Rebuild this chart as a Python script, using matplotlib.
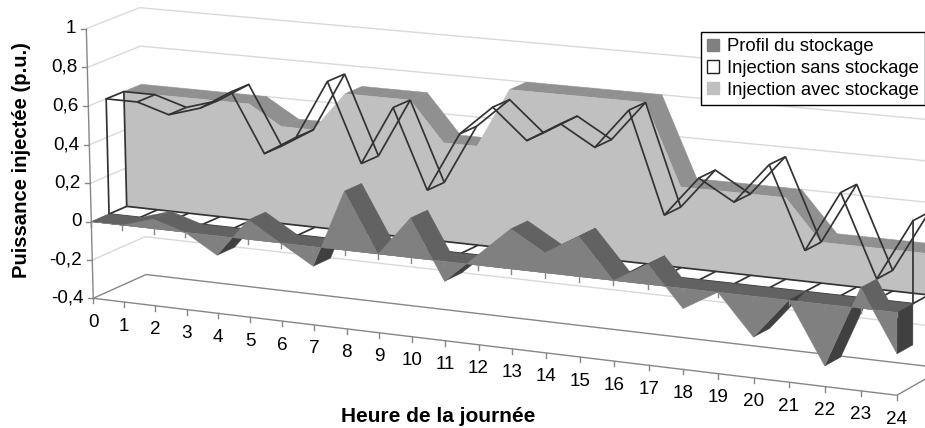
import numpy as np
import matplotlib
matplotlib.use('Agg')
import matplotlib.pyplot as plt
from matplotlib.patches import Patch

plt.rcParams['font.family'] = ['Liberation Sans', 'DejaVu Sans']

hours = list(range(25))
stockage = [0, 0, .05, 0, -.1, .1, 0, -.1, .3, 0, .2, -.1, .05, .2, .1, .2, 0, .1, -.1, 0, -.2, 0, -.3, .1, -.2]
sans_stockage = [.6, .6, .55, .6, .7, .4, .5, .8, .4, .7, .3, .6, .75, .6, .7, .6, .8, .3, .5, .4, .6, .2, .5, .1, .4]
avec_stockage = [.6, .6, .6, .6, .6, .5, .5, .7, .7, .7, .5, .5, .8, .8, .8, .8, .8, .4, .4, .4, .4, .2, .2, .2, .2]
y_ticks = [-.4, -.2, 0, .2, .4, .6, .8, 1]
y_labels = ['-0,4', '-0,2', '0', '0,2', '0,4', '0,6', '0,8', '1']

# box corners (hour, value, depth) and where they land in the image, for the 3d look
CAL_3D = [(0, -.4, 0), (24, -.4, 0), (0, 1, 0), (0, -.4, 1), (0, 1, 1), (24, -.4, 1), (24, 1, 1), (12, -.4, 0)]
CAL_PX = [(94, 299), (897, 396), (87, 27), (146, 275), (139, 8), (945, 366), (945, 81), (477, 345)]

A, b = [], []
for (h, v, d), (px, py) in zip(CAL_3D, CAL_PX):
    A.append([h, v, d, 1, 0, 0, 0, 0, -px * h, -px * v, -px * d])
    A.append([0, 0, 0, 0, h, v, d, 1, -py * h, -py * v, -py * d])
    b += [px, py]
cam = np.linalg.lstsq(np.array(A, float), np.array(b, float), rcond=None)[0]
cam = np.append(cam, 1.0).reshape(3, 4)


def pr(h, v, d):
    w = cam[2, 0] * h + cam[2, 1] * v + cam[2, 2] * d + cam[2, 3]
    x = (cam[0, 0] * h + cam[0, 1] * v + cam[0, 2] * d + cam[0, 3]) / w
    y = (cam[1, 0] * h + cam[1, 1] * v + cam[1, 2] * d + cam[1, 3]) / w
    return x, y


def area(pts):
    x, y = np.array(pts).T
    return 0.5 * np.sum(x * np.roll(y, -1) - np.roll(x, -1) * y)


fig = plt.figure(figsize=(9.25, 4.28), dpi=100)
ax = fig.add_axes([0, 0, 1, 1])
ax.set_xlim(0, 925)
ax.set_ylim(428, 0)
ax.axis('off')


def line3(p0, p1, color, lw=1.0, z=1):
    a, b_ = pr(*p0), pr(*p1)
    ax.plot([a[0], b_[0]], [a[1], b_[1]], color=color, lw=lw, zorder=z, solid_capstyle='butt')


def poly(pts, color, z):
    ax.fill(*zip(*pts), facecolor=color, edgecolor=color, lw=0.3, zorder=z)


def solid(vals, d0, d1, c_front, c_top, c_under, c_base, z):
    n = len(vals)
    # plane at zero, seen where the series hangs below it
    if c_base is not None:
        poly([pr(hours[0], 0, d0), pr(hours[-1], 0, d0), pr(hours[-1], 0, d1), pr(hours[0], 0, d1)], c_base, z)
    for i in range(n - 1):
        h0, h1, v0, v1 = hours[i], hours[i + 1], vals[i], vals[i + 1]
        parts = [(h0, v0, h1, v1)]
        if v0 * v1 < 0:
            hz = h0 + (h1 - h0) * v0 / (v0 - v1)
            parts = [(h0, v0, hz, 0), (hz, 0, h1, v1)]
        for a0, u0, a1, u1 in parts:
            q = [pr(a0, u0, d0), pr(a1, u1, d0), pr(a1, u1, d1), pr(a0, u0, d1)]
            s = area(q)
            if (u0 + u1) >= 0 and s < 0:
                poly(q, c_top, z)
            elif (u0 + u1) < 0 and s > 0:
                poly(q, c_under, z)
    # right end
    last = vals[-1]
    poly([pr(hours[-1], 0, d0), pr(hours[-1], last, d0), pr(hours[-1], last, d1), pr(hours[-1], 0, d1)],
         c_under if last < 0 else c_top, z)
    # front face
    top = [pr(h, v, d0) for h, v in zip(hours, vals)]
    bottom = [pr(h, 0, d0) for h in hours[::-1]]
    poly(top + bottom, c_front, z)


grid = '#d9d9d9'
axis_c = '#868686'
for v in y_ticks:
    c = axis_c if v == y_ticks[0] else grid
    line3((0, v, 0), (0, v, 1), c)
    line3((0, v, 1), (24, v, 1), c)
line3((24, y_ticks[0], 0), (24, y_ticks[0], 1), axis_c)
line3((0, y_ticks[0], 0), (24, y_ticks[0], 0), axis_c)
line3((0, y_ticks[0], 0), (0, y_ticks[-1], 0), axis_c)

for v, lab in zip(y_ticks, y_labels):
    x, y = pr(0, v, 0)
    ax.plot([x - 5, x], [y, y], color=axis_c, lw=1.0, zorder=1)
    ax.text(x - 10, y, lab, ha='right', va='center', fontsize=13.6, color='black')

for h in hours:
    x, y = pr(h, y_ticks[0], 0)
    ax.plot([x, x], [y, y + 5], color=axis_c, lw=1.0, zorder=1)
    ax.text(x, y + 24, str(h), ha='center', va='center', fontsize=13.6, color='black')

D1, D2 = 1 / 3, 2 / 3

# back series
solid(avec_stockage, D2, 1.0, '#c0c0c0', '#909090', '#909090', None, 2)

# wire series, no fill
wire = '#333333'
for d in (D1, D2):
    x, y = pr(np.array(hours, float), np.array(sans_stockage), d)
    ax.plot(x, y, color=wire, lw=1.25, zorder=3, solid_joinstyle='miter')
    x, y = pr(np.array(hours, float), np.zeros(len(hours)), d)
    ax.plot(x, y, color=wire, lw=1.25, zorder=3)
for h, v in zip(hours, sans_stockage):
    line3((h, v, D1), (h, v, D2), wire, 1.25, 3)
    line3((h, 0, D1), (h, 0, D2), wire, 1.25, 3)
for h, v in [(hours[0], sans_stockage[0]), (hours[-1], sans_stockage[-1])]:
    line3((h, 0, D1), (h, v, D1), wire, 1.25, 3)
    line3((h, 0, D2), (h, v, D2), wire, 1.25, 3)

# front series
solid(stockage, 0.0, D1, '#808080', '#626262', '#404040', '#626262', 4)

# category axis crossing at zero
for h in hours:
    x, y = pr(h, 0, 0)
    ax.plot([x, x], [y, y + 5], color=axis_c, lw=1.0, zorder=5)

ax.text(438, 417, 'Heure de la journée', ha='center', va='center', fontsize=15, fontweight='bold')
ax.text(22, 160, 'Puissance injectée (p.u.)', ha='center', va='center', rotation=90, fontsize=14.6, fontweight='bold')

handles = [Patch(facecolor='#808080', edgecolor='#808080', label='Profil du stockage'),
           Patch(facecolor='white', edgecolor='#222222', label='Injection sans stockage'),
           Patch(facecolor='#c0c0c0', edgecolor='#c0c0c0', label='Injection avec stockage')]
leg = ax.legend(handles=handles, loc='upper left', bbox_to_anchor=(700.7, 32), bbox_transform=ax.transData,
                borderaxespad=0, fontsize=13.3, fancybox=False, framealpha=1, edgecolor='black',
                handlelength=0.65, handleheight=0.65, handletextpad=0.4, labelspacing=0.25, borderpad=0.35)
leg.get_frame().set_linewidth(1.0)
leg.set_zorder(10)

fig.savefig('out.png', dpi=100)
